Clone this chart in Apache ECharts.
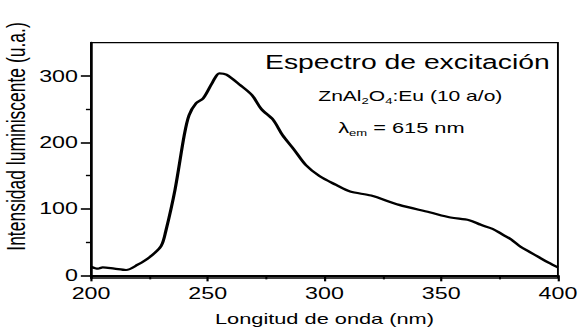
<!DOCTYPE html>
<html>
<head>
<meta charset="utf-8">
<script src="https://cdn.jsdelivr.net/npm/echarts@6/dist/echarts.min.js"></script>
<style>
html,body{margin:0;padding:0;background:#fff;overflow:hidden;}
/* the scanned figure is stretched sideways, so draw narrow and stretch */
#chart{width:401px;height:331px;transform:scaleX(1.4514);transform-origin:0 0;}
</style>
</head>
<body>
<div id="chart"></div>
<script>
var wavelength = [200, 203, 205, 210, 215, 220, 225, 230, 232, 236, 240, 242, 245, 248, 252, 255, 258, 264, 269, 273, 278, 282, 287, 292, 298, 305, 311, 320, 332, 345, 354, 362, 367, 372, 376, 380, 384, 388, 392, 396, 400];
var intensity = [13, 10, 12, 10, 8, 16, 27, 44, 66, 129, 212, 241, 259, 266, 290, 304, 302, 286, 271, 250, 234, 211, 189, 166, 149, 136, 126, 120, 106, 95, 87, 83, 76, 70, 62, 54, 43, 35, 27, 19, 12];
var yTicks = [0, 100, 200, 300];
var yMinorTicks = [50, 150, 250];

var points = [];
for (var i = 0; i < wavelength.length; i++) {
    points.push([wavelength[i], intensity[i]]);
}

var font = 'Liberation Sans, Arial, Helvetica, sans-serif';
var myChart = echarts.init(document.getElementById('chart'), null, {renderer: 'svg'});
var option = {
    backgroundColor: '#fff',
    animation: false,
    grid: {
        left: 62.7, right: 16.6, top: 42.7, bottom: 52.7,
        show: true, borderColor: '#000', borderWidth: 1.3
    },
    xAxis: {
        type: 'value', min: 200, max: 400, interval: 50,
        name: 'Longitud de onda (nm)', nameLocation: 'middle', nameGap: 33,
        nameTextStyle: {fontFamily: font, fontSize: 15, color: '#000'},
        axisLine: {lineStyle: {color: '#000', width: 2}},
        axisTick: {length: 6, lineStyle: {color: '#000', width: 1.5}},
        minorTick: {show: true, splitNumber: 2, length: 4, lineStyle: {color: '#000', width: 1.4}},
        axisLabel: {fontFamily: font, fontSize: 16, color: '#000', margin: 7},
        splitLine: {show: false}
    },
    yAxis: [
        {
            type: 'value', min: -4, max: 350,
            axisLine: {show: true, lineStyle: {color: '#000', width: 1.8}},
            axisTick: {show: true, customValues: yTicks, length: 7, lineStyle: {color: '#000', width: 1.6}},
            axisLabel: {customValues: yTicks, fontFamily: font, fontSize: 16, color: '#000', margin: 9},
            splitLine: {show: false}
        },
        {
            type: 'value', min: -4, max: 350, position: 'left',
            axisLine: {show: false},
            axisTick: {show: true, customValues: yMinorTicks, length: 3.5, lineStyle: {color: '#000', width: 1.4}},
            axisLabel: {show: false},
            splitLine: {show: false}
        }
    ],
    series: [{
        type: 'line',
        data: points,
        showSymbol: false,
        smooth: 0.3,
        lineStyle: {color: '#000', width: 2.2}
    }],
    graphic: [
        {
            type: 'text', x: 182.6, y: 62,
            style: {text: 'Espectro de excitación', font: '19.5px ' + font, fill: '#000', textVerticalAlign: 'middle'}
        },
        {
            type: 'text', x: 219.3, y: 96,
            style: {
                text: '{n|ZnAl}{s|2}{n|O}{s|4}{n|:Eu (10 a/o)}',
                textVerticalAlign: 'middle',
                rich: {
                    n: {fontFamily: font, fontSize: 14.5, lineHeight: 18, fill: '#000'},
                    s: {fontFamily: font, fontSize: 9, lineHeight: 8, verticalAlign: 'bottom', fill: '#000'}
                }
            }
        },
        {
            type: 'text', x: 233, y: 128,
            style: {
                text: '{n|λ}{s|em}{n| = 615 nm}',
                textVerticalAlign: 'middle',
                rich: {
                    n: {fontFamily: font, fontSize: 15, lineHeight: 18, fill: '#000'},
                    s: {fontFamily: font, fontSize: 9, lineHeight: 8, verticalAlign: 'bottom', fill: '#000'}
                }
            }
        },
        {
            type: 'text', x: 11.4, y: 136.5, rotation: Math.PI / 2,
            style: {text: 'Intensidad luminiscente (u.a.)', font: '17.5px ' + font, fill: '#000', textAlign: 'center', textVerticalAlign: 'middle'}
        }
    ]
};
myChart.setOption(option);
</script>
</body>
</html>
